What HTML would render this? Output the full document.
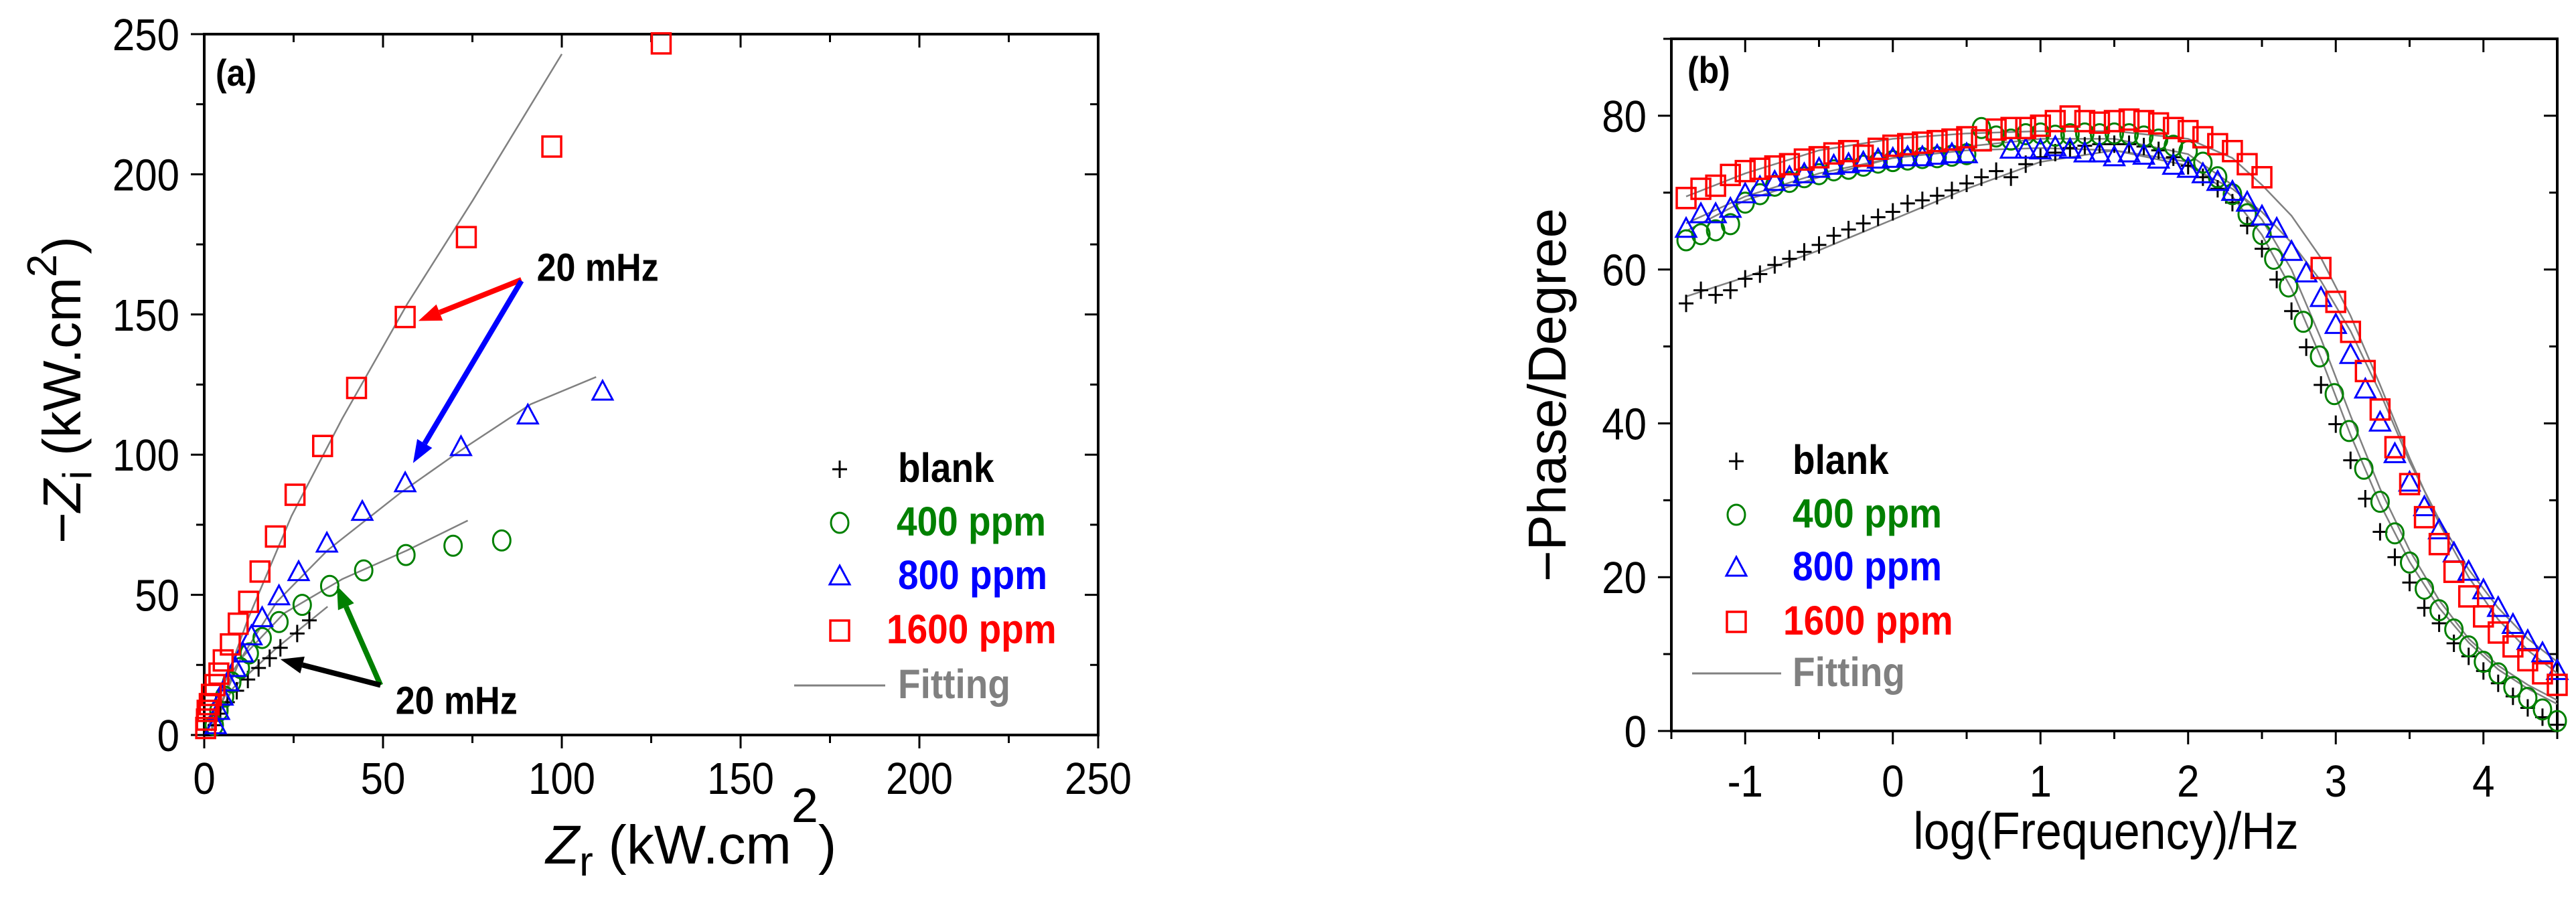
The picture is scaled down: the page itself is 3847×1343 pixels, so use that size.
<!DOCTYPE html>
<html><head><meta charset="utf-8"><style>
html,body{margin:0;padding:0;background:#fff;}
svg{display:block;font-family:"Liberation Sans",Arial,sans-serif;}
</style></head><body>
<svg id="chart" width="3847" height="1343" viewBox="0 0 3847 1343" xmlns="http://www.w3.org/2000/svg">
<g id="pa"></g>
<g id="pb"></g>
</svg>
<script>
// ---- Panel (a) Nyquist data ----
const nyBlankX=[29.4,26,21.3,18.3,15.2,12.2,9.1,6.5,4.5,3.0];
const nyBlankY=[40.9,36.2,31.1,27.4,23.9,19.8,15.8,11.7,7.6,3.5];
const ny400X=[83.2,69.6,56.4,44.6,35.1,27.4,20.9,16.2,12.6,10.1,7.7,5.7,4.1,2.8];
const ny400Y=[69.4,67.5,64.2,58.7,53.2,46.4,40.3,34.6,29.1,23.9,18.8,13.7,8.6,3.5];
const ny800X=[111.4,90.5,71.8,56.2,44.2,34.3,26.4,20.9,16.2,13.2,10.8,8.7,6.7,5.1,4.1,3.2];
const ny800Y=[122.5,114,102.7,89.8,79.6,68.3,58.1,49.5,41.7,35.2,29.1,23.9,18.8,13.7,8.6,3.5];
const ny1600X=[127.8,97.2,73.3,56.2,42.6,33.1,25.4,19.9,15.6,12.4,9.5,7.3,5.3,4.1,3.0,2.0,1.4,0.8,0.6,0.4];
const ny1600Y=[246.7,209.9,177.6,149.1,123.8,103.1,85.7,70.8,58.3,47.5,39.7,32.3,26.6,21.9,17.8,14.3,11,8.6,5.5,2.5];
const fitBlankX=[2,8.1,20.3,34.5], fitBlankY=[2.5,16.8,31.1,45.8];
const fit400X=[2,10.1,22.3,38.6,56.8,73.7], fit400Y=[2.5,27,43.4,55.6,65.9,76.5];
const fit800X=[2,8.1,20.3,34.5,54.8,73.1,91.3,109.6], fit800Y=[1.4,22.9,47.5,65.9,86.3,102.7,118,127.7];
const fit1600X=[0.3,4.1,12.2,24.4,38.6,56.8,75.1,100], fit1600Y=[0.5,12.7,41.3,78.1,112.9,153.8,190.7,242.9];
const aTicks=[0,50,100,150,200,250];

// ---- Panel (b) Bode phase data ----
const bX1600=[-1.4,-1.3,-1.2,-1.1,-1.0,-0.9,-0.8,-0.7,-0.6,-0.5,-0.4,-0.3,-0.2,-0.1,0,0.1,0.2,0.3,0.4,0.5,0.6,0.7,0.8,0.9,1.0,1.1,1.2,1.3,1.4,1.5,1.6,1.7,1.8,1.9,2.0,2.1,2.2,2.3,2.4,2.5,2.9,3.0,3.1,3.2,3.3,3.4,3.5,3.6,3.7,3.8,3.9,4.0,4.1,4.2,4.3,4.4,4.5];
const bY1600=[69.3,70.5,70.9,72.3,72.8,73.1,73.4,73.7,74.3,74.6,75.1,75.4,74.8,75.7,76.1,76.3,76.5,76.7,76.9,77.2,76.8,78.2,78.4,78.4,78.7,79.3,79.9,79.3,79.1,79.3,79.5,79.3,79.0,78.4,78.0,77.2,76.3,75.4,73.7,72.0,60.2,55.8,51.9,46.8,41.8,36.9,32.1,27.8,24.3,20.7,17.5,14.9,12.8,11.0,9.2,7.5,6.0];
const bX800=[-1.4,-1.3,-1.2,-1.1,-1.0,-0.9,-0.8,-0.7,-0.6,-0.5,-0.4,-0.3,-0.2,-0.1,0,0.1,0.2,0.3,0.4,0.5,0.8,0.9,1.0,1.1,1.2,1.3,1.4,1.5,1.6,1.7,1.8,1.9,2.0,2.1,2.2,2.3,2.4,2.5,2.6,2.7,2.8,2.9,3.0,3.1,3.2,3.3,3.4,3.5,3.6,3.7,3.8,3.9,4.0,4.1,4.2,4.3,4.4,4.5];
const bY800=[65.3,67.2,67.2,67.9,69.8,70.7,71.4,72.0,72.4,73.1,73.5,73.7,73.9,74.3,74.4,74.6,74.6,74.8,75.0,75.0,75.6,75.6,75.5,75.9,75.6,75.1,75.1,74.6,75.1,74.8,74.3,73.5,73.1,72.4,71.4,70.1,68.7,66.9,65.3,62.3,59.5,56.3,52.8,48.9,44.4,40.1,36.0,32.3,29.1,26.1,23.1,20.7,18.3,16.0,13.8,11.7,10.1,7.8];
const bX400=[-1.4,-1.3,-1.2,-1.1,-1.0,-0.9,-0.8,-0.7,-0.6,-0.5,-0.4,-0.3,-0.2,-0.1,0,0.1,0.2,0.3,0.4,0.5,0.6,0.7,0.8,0.9,1.0,1.1,1.2,1.3,1.4,1.5,1.6,1.7,1.8,1.9,2.0,2.1,2.2,2.3,2.4,2.5,2.58,2.68,2.78,2.89,2.99,3.09,3.19,3.3,3.4,3.5,3.6,3.7,3.8,3.9,4.0,4.1,4.2,4.3,4.4,4.5];
const bY400=[63.8,64.6,65.1,65.9,68.7,69.8,70.9,71.4,72.0,72.4,72.9,73.1,73.5,73.9,74.1,74.3,74.5,74.6,74.8,75.0,78.4,77.3,76.9,77.6,77.7,77.4,77.6,77.7,77.6,77.7,77.6,77.3,76.9,76.1,75.4,73.9,72.0,69.8,67.2,64.6,61.4,57.8,53.2,48.7,43.8,39.0,34.1,29.8,25.7,21.9,18.5,15.7,13.2,11.0,9.0,7.5,5.7,4.3,2.8,1.3];
const bXblank=[-1.4,-1.3,-1.2,-1.1,-1.0,-0.9,-0.8,-0.7,-0.6,-0.5,-0.4,-0.3,-0.2,-0.1,0,0.1,0.2,0.3,0.4,0.5,0.6,0.7,0.8,0.9,1.0,1.1,1.2,1.3,1.4,1.5,1.6,1.7,1.8,1.9,2.0,2.1,2.2,2.3,2.4,2.5,2.6,2.7,2.8,2.9,3.0,3.1,3.2,3.3,3.4,3.5,3.6,3.7,3.8,3.9,4.0,4.1,4.2,4.3,4.4,4.5];
const bYblank=[55.6,57.3,56.7,57.3,58.8,59.4,60.6,61.4,62.3,63.2,64.4,65.2,66.0,66.8,67.5,68.6,69.0,69.6,70.3,71.2,72.0,72.8,72.0,73.7,74.6,75.2,75.8,76.1,76.3,76.3,76.3,76.0,75.5,74.6,73.5,72.0,70.5,68.7,65.7,62.7,58.7,54.6,49.9,45.0,39.9,35.2,30.2,25.9,22.6,19.3,16.0,14.0,11.4,9.7,7.8,6.2,4.5,3.0,1.8,0.8];
const fbX=[-1.4,-1.0,-0.5,0,0.5,1.0,1.5,2.0,2.3,2.5,2.7,2.9,3.1,3.3,3.5,3.7,3.9,4.1,4.3,4.5];
const fb1600=[69.5,72.5,75.5,77.0,77.7,78.0,78.0,77.0,74.5,71,67,61.5,54,45,35.5,27,20,14.5,10.5,7.5];
const fb800=[66,69.5,72.5,74.5,75.5,75.8,75.5,73.5,70.5,67.5,63.5,58.5,52,44,35,27.5,21,16,12,9];
const fb400=[65,69,72,74.5,76,77,77,75,71,66.5,60,51,41,31.5,23.5,17,12,8.5,6,4];
const fbBlank=[56.5,59,62.5,66.5,70.5,74,75.5,74,69.5,64.5,57.5,48.5,38.5,29.5,22,16,11.5,8,5.5,3.5];
const bYTicks=[0,20,40,60,80];
const bXTicks=[-1,0,1,2,3,4];

const NS='http://www.w3.org/2000/svg';
function mk(parent,tag,attrs){const e=document.createElementNS(NS,tag);for(const k in attrs)e.setAttribute(k,attrs[k]);parent.appendChild(e);return e;}
function txt(parent,x,y,s,size,o){o=o||{};
  const t=mk(parent,'text',{transform:`translate(${x},${y}) ${o.rot?'rotate(-90)':''} scale(1,${o.sy||1.12})`,'font-size':size,fill:o.fill||'#000','font-weight':o.bold?'bold':'normal','text-anchor':o.anchor||'start'});
  t.textContent=s;return t;}

function marker(g,type,x,y,color){
  let e;
  if(type==='plus'){e=mk(g,'path',{d:`M${x-11},${y}H${x+11}M${x},${y-13}V${y+13}`,stroke:color,'stroke-width':3,fill:'none'});}
  else if(type==='circle'){e=mk(g,'ellipse',{cx:x,cy:y,rx:13,ry:15,stroke:color,'stroke-width':3,fill:'none'});}
  else if(type==='tri'){e=mk(g,'path',{d:`M${x},${y-16}L${x+15},${y+12}L${x-15},${y+12}Z`,stroke:color,'stroke-width':3,fill:'none'});}
  else {e=mk(g,'rect',{x:x-14,y:y-15,width:28,height:30,stroke:color,'stroke-width':3.5,fill:'none'});}
  return e;
}

// ===== Panel A =====
(function(){
  const g=document.getElementById('pa');
  const L=305,R=1640,T=51,B=1098;
  const sx=v=>L+(v/250)*(R-L), sy=v=>B-(v/250)*(B-T);
  const frame=mk(g,'rect',{x:L,y:T,width:R-L,height:B-T,fill:'none',stroke:'#000','stroke-width':4});
  
  
  for(let v=0;v<=250;v+=25){
    const major=v%50===0, len=major?20:12;
    mk(g,'line',{x1:sx(v),y1:B,x2:sx(v),y2:B+len,stroke:'#000','stroke-width':3});
    mk(g,'line',{x1:sx(v),y1:T,x2:sx(v),y2:T+len,stroke:'#000','stroke-width':3});
    mk(g,'line',{x1:L,y1:sy(v),x2:L-len,y2:sy(v),stroke:'#000','stroke-width':3});
    mk(g,'line',{x1:R,y1:sy(v),x2:R-len,y2:sy(v),stroke:'#000','stroke-width':3});
  }
  aTicks.forEach(v=>{
    const t=txt(g,sx(v),1186,String(v),60,{anchor:'middle'});
    
    
    const t2=txt(g,268,sy(v)+24,String(v),60,{anchor:'end'});
    
    
  });
  // fits
  [[fitBlankX,fitBlankY],[fit400X,fit400Y],[fit800X,fit800Y],[fit1600X,fit1600Y]].forEach(([xs,ys])=>{
    const p=mk(g,'polyline',{points:xs.map((x,i)=>sx(x)+','+sy(ys[i])).join(' '),fill:'none',stroke:'#808080','stroke-width':2.5});
    
    
  });
  const series=[[nyBlankX,nyBlankY,'plus','#000'],[ny400X,ny400Y,'circle','#008000'],[ny800X,ny800Y,'tri','#0000ff'],[ny1600X,ny1600Y,'square','#ff0000']];
  series.forEach(([xs,ys,ty,c])=>{
    xs.forEach((x,i)=>{
      const m=marker(g,ty,sx(x),sy(ys[i]),c);
      
      
    });
  });
  // arrows
  function arrow(x1,y1,x2,y2,c){
    const X1=sx(x1),Y1=sy(y1),X2=sx(x2),Y2=sy(y2);
    const a=Math.atan2(Y2-Y1,X2-X1),h=34,w=13;
    const bx=X2-h*Math.cos(a),by=Y2-h*Math.sin(a);
    mk(g,'line',{x1:X1,y1:Y1,x2:bx,y2:by,stroke:c,'stroke-width':8});
    const ar=mk(g,'path',{d:`M${X2},${Y2}L${bx+w*Math.sin(a)},${by-w*Math.cos(a)}L${bx-w*Math.sin(a)},${by+w*Math.cos(a)}Z`,fill:c});
    
    
  }
  arrow(88.7,162.4,59.9,147.7,'#ff0000');
  arrow(88.7,162,58.4,97,'#0000ff');
  arrow(49.3,17.8,37.1,53.2,'#008000');
  arrow(49.3,17.8,21.3,27,'#000');
  const a1=txt(g,sx(93),sy(162),'20 mHz',52,{bold:true});
  
  
  const a2=txt(g,sx(53.5),sy(7.5),'20 mHz',52,{bold:true});
  
  
  const lab=txt(g,322,128,'(a)',50,{bold:true});
  
  
  // legend
  const lg=mk(g,'g',{});
  
  
  const rows=[['blank','plus','#000',701,1341],['400 ppm','circle','#008000',781,1339],['800 ppm','tri','#0000ff',861,1341],['1600 ppm','square','#ff0000',942,1324]];
  rows.forEach(([s,ty,c,y,tx])=>{
    marker(lg,ty,1254,y,c);
    const t=txt(lg,tx,y+19,s,55,{bold:true,fill:c});
    
    
  });
  mk(lg,'line',{x1:1186,y1:1024,x2:1322,y2:1024,stroke:'#808080','stroke-width':3});
  const ft=txt(lg,1341,1043,'Fitting',55,{bold:true,fill:'#808080'});
  
  
  // axis titles
  const xt=mk(g,'text',{x:815,y:1290,'font-size':82});
  
  
  xt.innerHTML='<tspan font-style="italic">Z</tspan><tspan dy="18" font-size="62">r</tspan><tspan dy="-18"> (kW.cm</tspan><tspan dy="-62" font-size="72">2</tspan><tspan dy="62">)</tspan>';
  const yt=mk(g,'text',{transform:'translate(120,812) rotate(-90)','font-size':80});
  
  
  yt.innerHTML='−<tspan font-style="italic">Z</tspan><tspan dy="16" font-size="60">i</tspan><tspan dy="-16"> (kW.cm</tspan><tspan dy="-36" font-size="62">2</tspan><tspan dy="36">)</tspan>';
})();

// ===== Panel B =====
(function(){
  const g=document.getElementById('pb');
  const L=2496,R=3819,T=58,B=1092;
  const sx=v=>L+(v+1.5)/6*(R-L), sy=v=>B-v/90*(B-T);
  const frame=mk(g,'rect',{x:L,y:T,width:R-L,height:B-T,fill:'none',stroke:'#000','stroke-width':4});
  
  
  for(let v=-1.5;v<=4.5001;v+=0.5){
    const major=Math.abs(v-Math.round(v))<1e-6, len=major?20:12;
    mk(g,'line',{x1:sx(v),y1:B,x2:sx(v),y2:B+len,stroke:'#000','stroke-width':3});
    mk(g,'line',{x1:sx(v),y1:T,x2:sx(v),y2:T+len,stroke:'#000','stroke-width':3});
  }
  for(let v=0;v<=90;v+=10){
    const len=v%20===0?20:12;
    mk(g,'line',{x1:L,y1:sy(v),x2:L-len,y2:sy(v),stroke:'#000','stroke-width':3});
    mk(g,'line',{x1:R,y1:sy(v),x2:R-len,y2:sy(v),stroke:'#000','stroke-width':3});
  }
  bYTicks.forEach(v=>{
    const t=txt(g,2459,sy(v)+24,String(v),60,{anchor:'end'});
    
    
  });
  bXTicks.forEach(v=>{
    const t=txt(g,sx(v),1190,v<0?'-'+Math.abs(v):String(v),60,{anchor:'middle'});
    
    
  });
  [fbBlank,fb400,fb800,fb1600].forEach(ys=>{
    const p=mk(g,'polyline',{points:fbX.map((x,i)=>sx(x)+','+sy(ys[i])).join(' '),fill:'none',stroke:'#808080','stroke-width':2.5});
    
    
  });
  const series=[[bXblank,bYblank,'plus','#000'],[bX400,bY400,'circle','#008000'],[bX800,bY800,'tri','#0000ff'],[bX1600,bY1600,'square','#ff0000']];
  series.forEach(([xs,ys,ty,c])=>{
    xs.forEach((x,i)=>{
      const m=marker(g,ty,sx(x),sy(ys[i]),c);
      
      
    });
  });
  const lab=txt(g,2520,124,'(b)',50,{bold:true});
  
  
  const lg=mk(g,'g',{});
  
  
  const rows=[['blank','plus','#000',689,2677],['400 ppm','circle','#008000',769,2677],['800 ppm','tri','#0000ff',848,2677],['1600 ppm','square','#ff0000',929,2663]];
  rows.forEach(([s,ty,c,y,tx])=>{
    marker(lg,ty,2593,y,c);
    const t=txt(lg,tx,y+19,s,55,{bold:true,fill:c});
    
    
  });
  mk(lg,'line',{x1:2527,y1:1006,x2:2660,y2:1006,stroke:'#808080','stroke-width':3});
  const ft=txt(lg,2677,1025,'Fitting',55,{bold:true,fill:'#808080'});
  
  
  const xt=txt(g,3145,1268,'log(Frequency)/Hz',70,{anchor:'middle',sy:1.12});
  
  
  const yt=mk(g,'text',{transform:'translate(2338,590) rotate(-90)','font-size':80,'text-anchor':'middle'});
  yt.textContent='−Phase/Degree';
  
  
})();
</script>
</body></html>
